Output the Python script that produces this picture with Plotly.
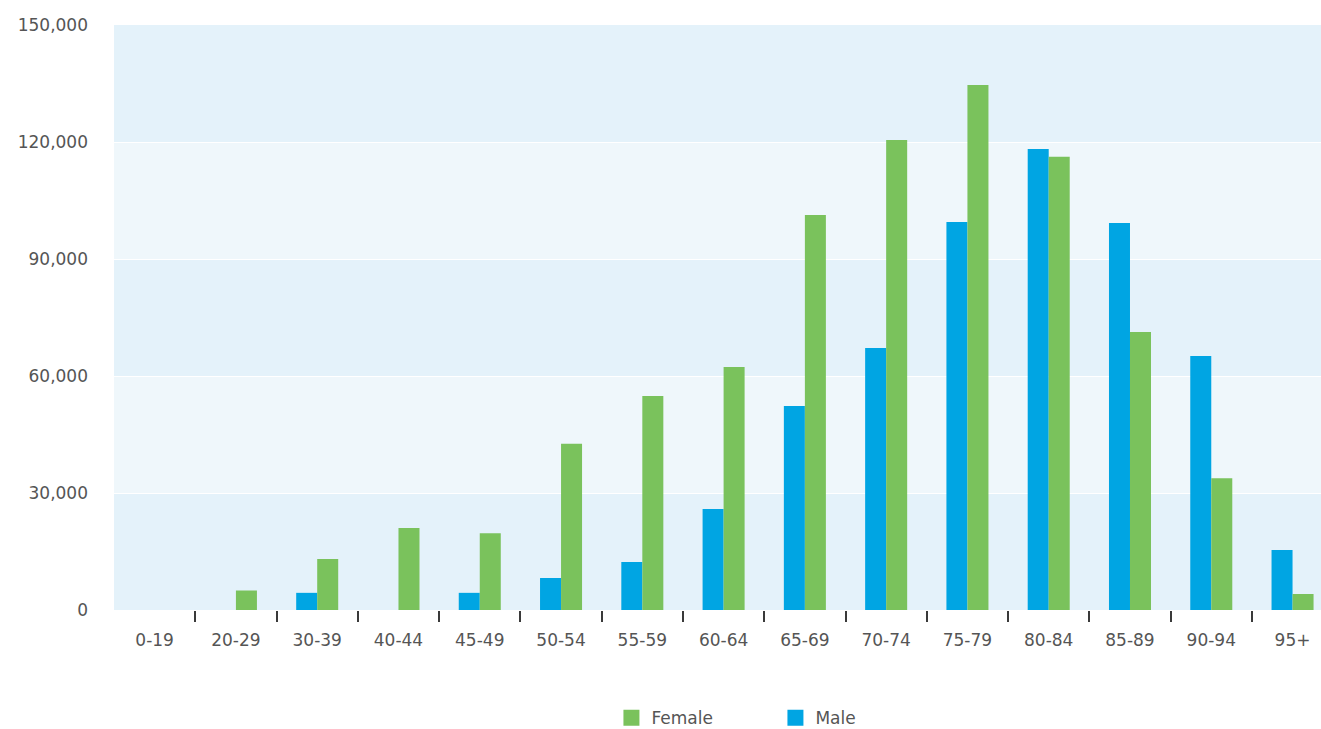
import plotly.graph_objects as go

categories = ["0-19", "20-29", "30-39", "40-44", "45-49", "50-54", "55-59", "60-64",
              "65-69", "70-74", "75-79", "80-84", "85-89", "90-94", "95+"]
male = [0, 0, 4400, 0, 4400, 8200, 12300, 25900, 52300, 67200, 99500, 118200, 99200, 65100, 15400]
female = [0, 5000, 13100, 21000, 19700, 42600, 54900, 62300, 101300, 120500, 134600, 116200, 71300, 33800, 4100]
y_ticks = [0, 30000, 60000, 90000, 120000, 150000]

BLUE = "#00a5e3"
GREEN = "#7ac25c"
DARK_BAND = "#e4f2fa"
LIGHT_BAND = "#eff7fb"
TEXT = "#555555"
FONT = "DejaVu Sans"

fig = go.Figure()
fig.add_trace(go.Bar(x=categories, y=male, name="Male", marker_color=BLUE,
                     marker_line_width=0, showlegend=False, hoverinfo="x+y+name"))
fig.add_trace(go.Bar(x=categories, y=female, name="Female", marker_color=GREEN,
                     marker_line_width=0, showlegend=False, hoverinfo="x+y+name"))
# legend entries (square markers)
fig.add_trace(go.Scatter(x=[None], y=[None], mode="markers", name="Female",
                         marker=dict(symbol="square", size=16, color=GREEN)))
fig.add_trace(go.Scatter(x=[None], y=[None], mode="markers", name="Male",
                         marker=dict(symbol="square", size=16, color=BLUE)))

# boundary tick marks on an overlaid linear axis
n = len(categories)
x_range = [-0.5, n - 0.65]  # right edge of the last category is cut off, as in the original
boundaries = [i + 0.5 for i in range(n - 1)]
fig.add_trace(go.Scatter(x=[None], y=[None], xaxis="x2", showlegend=False))

# alternating bands
shapes = []
for i in range(len(y_ticks) - 1):
    if i % 2 == 1:
        shapes.append(dict(type="rect", xref="paper", yref="y", x0=0, x1=1,
                           y0=y_ticks[i], y1=y_ticks[i + 1], fillcolor=LIGHT_BAND,
                           line=dict(width=0), layer="below"))

fig.update_layout(
    width=1321, height=729,
    margin=dict(l=114, r=0, t=25, b=119, autoexpand=False),
    paper_bgcolor="white",
    plot_bgcolor=DARK_BAND,
    barmode="group",
    bargap=0.483,
    bargroupgap=0,
    font=dict(family=FONT, color=TEXT, size=17),
    shapes=shapes,
    xaxis=dict(type="category", showgrid=False, zeroline=False, showline=False,
               ticks="", tickfont=dict(size=17, color=TEXT), ticklabelstandoff=18,
               range=x_range, automargin=False),
    xaxis2=dict(overlaying="x", anchor="y", side="bottom", range=x_range,
                tickvals=boundaries, ticktext=[""] * len(boundaries),
                ticks="outside", ticklen=11, tickcolor="#3a3a3a", tickwidth=2,
                showgrid=False, zeroline=False, showline=False, automargin=False),
    yaxis=dict(range=[0, 150000], tickvals=y_ticks, tickformat=",",
               showgrid=True, gridcolor="white", gridwidth=1, zeroline=False,
               showline=False, ticks="", tickfont=dict(size=17, color=TEXT),
               ticklabelstandoff=25, automargin=False),
    legend=dict(orientation="h", x=0.548, xanchor="center", y=-0.185, yanchor="middle",
                font=dict(size=17, color=TEXT), entrywidth=119, itemsizing="trace"),
)

fig.write_html("out.html")
